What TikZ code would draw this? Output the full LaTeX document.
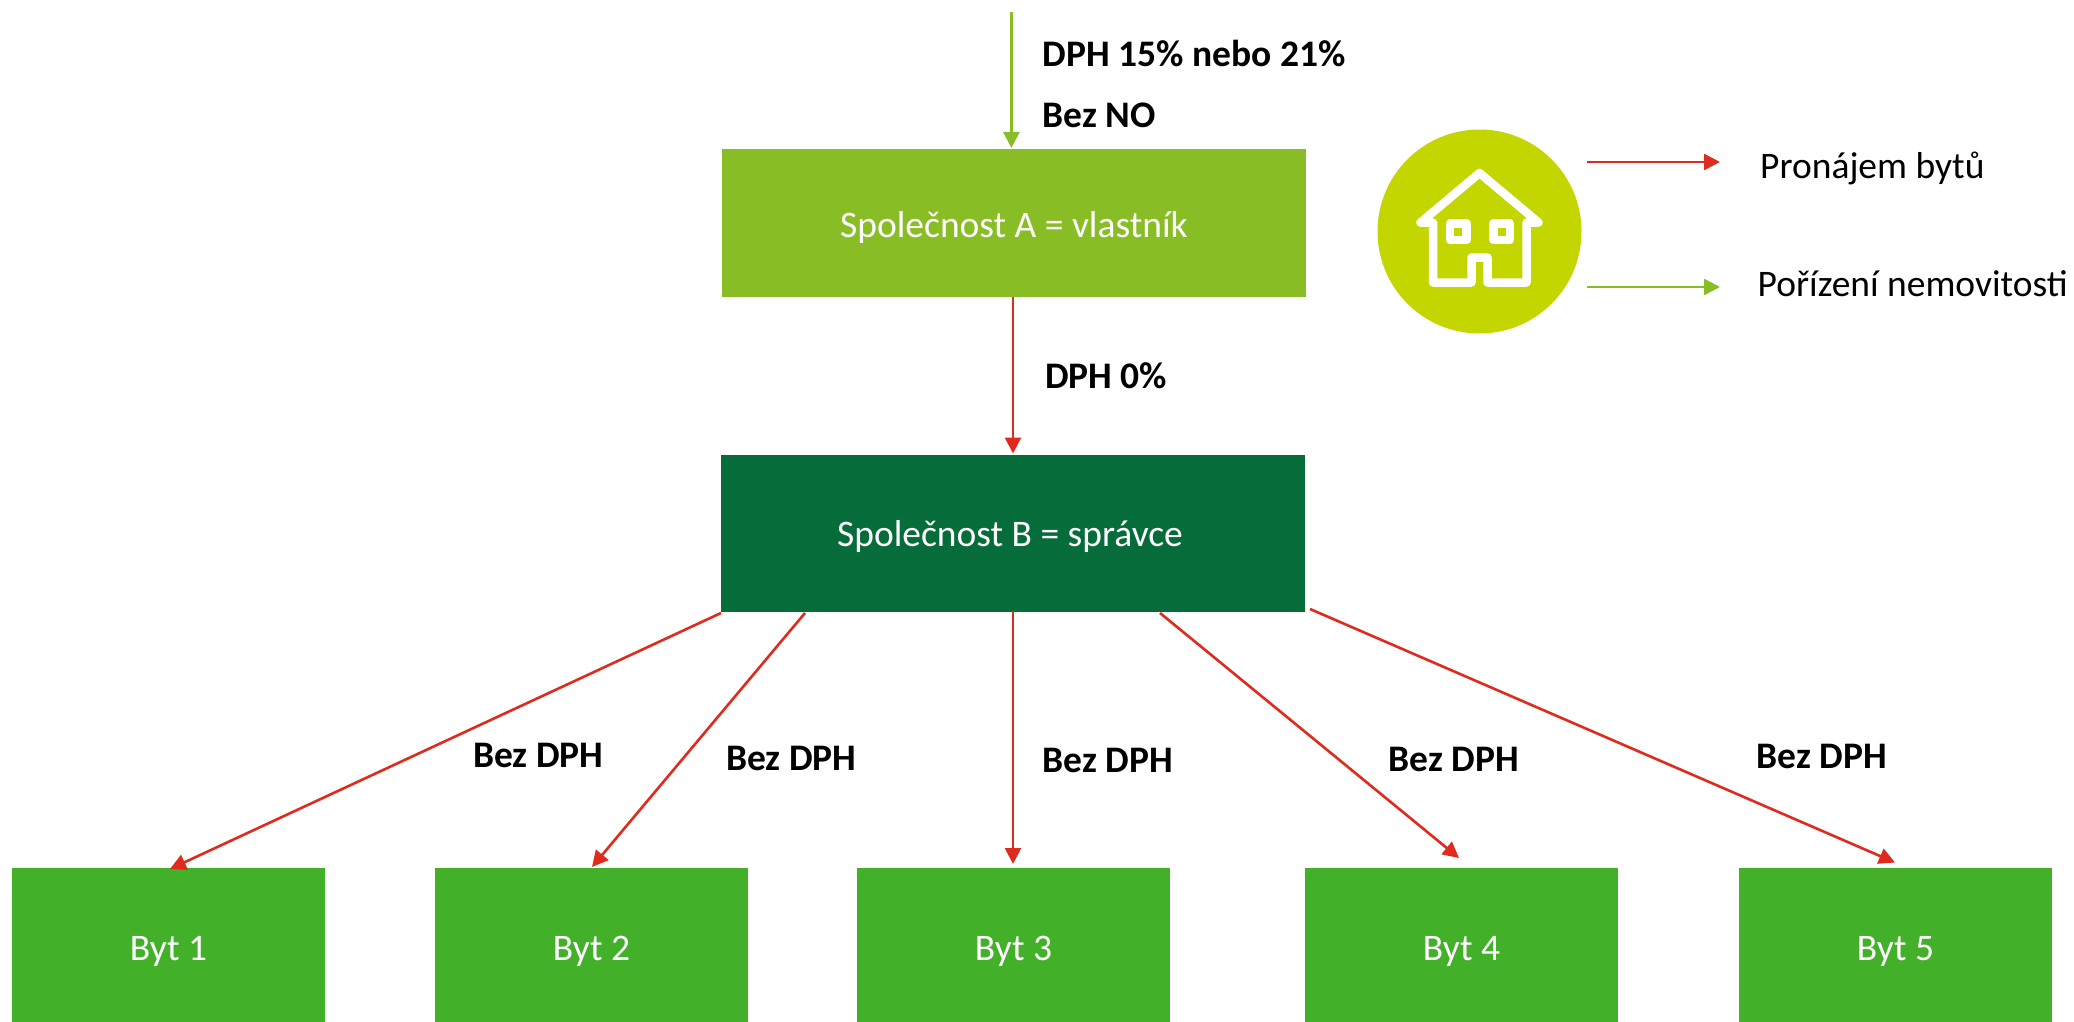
\documentclass[tikz,border=0pt]{standalone}
\usepackage{fontspec}
\setmainfont{Carlito}
\usetikzlibrary{arrows.meta}
\definecolor{cA}{HTML}{88BD26}
\definecolor{cB}{HTML}{066C3A}
\definecolor{cByt}{HTML}{43B02A}
\definecolor{cRed}{HTML}{DE2B1D}
\definecolor{cLime}{HTML}{C3D600}
\tikzset{
  box/.style={fill=#1,draw=none,text=white,inner sep=0pt,text height=0pt,text depth=0pt,font=\fontsize{37.5}{42}\selectfont},
  conn/.style={draw=#1,line width=2.6pt,-{Triangle[length=16pt,width=16pt]}},
  lab/.style={anchor=base west,inner sep=0pt,font=\fontsize{37.5}{42}\selectfont\bfseries},
  leg/.style={anchor=base west,inner sep=0pt,font=\fontsize{37.5}{42}\selectfont},
  icon/.style={white,line width=8.5pt,line join=round,line cap=round},
}
\begin{document}
\begin{tikzpicture}[x=1pt,y=-1pt]
\useasboundingbox (0,0) rectangle (2074,1022);
\node[box=cA,minimum width=584pt,minimum height=148pt] (A) at (1014,223) {\raisebox{-14pt}{Společnost A = vlastník}};
\node[box=cB,minimum width=584pt,minimum height=157pt] (B) at (1013,533) {\kern-6pt\raisebox{-13pt}{Společnost B = správce}};
\node[box=cByt,minimum width=313pt,minimum height=154pt] (b1) at (168.5,945) {\raisebox{-15pt}{Byt 1}};
\node[box=cByt,minimum width=313pt,minimum height=154pt] (b2) at (591.5,945) {\raisebox{-15pt}{Byt 2}};
\node[box=cByt,minimum width=313pt,minimum height=154pt] (b3) at (1013.5,945) {\raisebox{-15pt}{Byt 3}};
\node[box=cByt,minimum width=313pt,minimum height=154pt] (b4) at (1461.5,945) {\raisebox{-15pt}{Byt 4}};
\node[box=cByt,minimum width=313pt,minimum height=154pt] (b5) at (1895.5,945) {\raisebox{-15pt}{Byt 5}};
\coordinate (top) at (1011.4,12);
\coordinate (A1) at (1011.4,148);
\coordinate (AB1) at (1013,297);
\coordinate (AB2) at (1013,453.5);
\coordinate (s3) at (1013,611);
\coordinate (e3) at (1013,864);
\coordinate (s1) at (721,613);
\coordinate (e1) at (170,869);
\coordinate (s2) at (805,613);
\coordinate (e2) at (592,867);
\coordinate (s4) at (1160,613);
\coordinate (e4) at (1459,858);
\coordinate (s5) at (1310,609);
\coordinate (e5) at (1895,862.5);
\draw[conn=cA] (top) -- (A1);
\draw[conn=cRed] (AB1) -- (AB2);
\draw[conn=cRed] (s1) -- (e1);
\draw[conn=cRed] (s2) -- (e2);
\draw[conn=cRed] (s3) -- (e3);
\draw[conn=cRed] (s4) -- (e4);
\draw[conn=cRed] (s5) -- (e5);
\node[lab] (l1) at (1042.5,67) {DPH 15\% nebo 21\%};
\node[lab] (l2) at (1042.5,128) {Bez NO};
\node[lab] (l3) at (1045,388) {DPH 0\%};
\node[lab] (l4) at (473,767) {Bez DPH};
\node[lab] (l5) at (726,770) {Bez DPH};
\node[lab] (l6) at (1042.5,772) {Bez DPH};
\node[lab] (l7) at (1388.5,771) {Bez DPH};
\node[lab] (l8) at (1756.5,768) {Bez DPH};
\node[circle,fill=cLime,minimum size=204pt,inner sep=0pt] (ic) at (1479.5,231.5) {};
\draw[icon]
  (1420.5,222.5) -- (1479.5,173) -- (1538.5,222.5) -- (1526.5,222.5) -- (1526.5,282.5) -- (1487.5,282.5) -- (1487.5,257.5) -- (1471.5,257.5) -- (1471.5,282.5) -- (1433,282.5) -- (1433,222.5) -- cycle;
\draw[icon] (1450,223.5) rectangle (1466.7,240);
\draw[icon] (1493.3,223.5) rectangle (1510,240);
\coordinate (rs) at (1587,162);
\coordinate (re) at (1720,162);
\coordinate (gs) at (1587,287);
\coordinate (ge) at (1720,287);
\draw[conn=cRed] (rs) -- (re);
\draw[conn=cA] (gs) -- (ge);
\node[leg] (t1) at (1760,178) {Pronájem bytů};
\node[leg] (t2) at (1757.5,296) {Pořízení nemovitosti};
\end{tikzpicture}
\end{document}
